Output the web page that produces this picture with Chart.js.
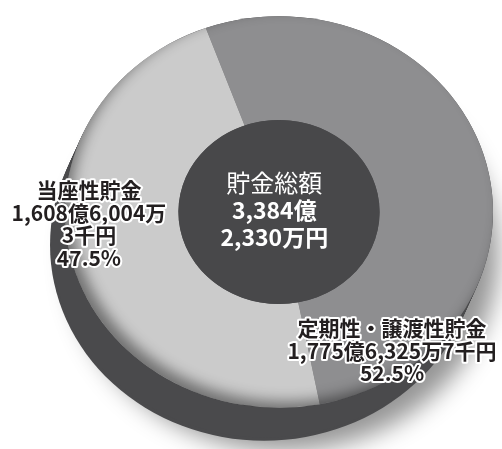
<!DOCTYPE html>
<html>
<head>
<meta charset="utf-8">
<script src="https://cdn.jsdelivr.net/npm/chart.js@4.4.1/dist/chart.umd.min.js"></script>
<style>
  html, body { margin: 0; padding: 0; background: #fff; }
  #wrap { width: 502px; height: 449px; }
</style>
</head>
<body>
<div id="wrap"><canvas id="savingsChart" width="502" height="449"></canvas></div>
<script>
// data
const categories = ['定期性・譲渡性貯金', '当座性貯金'];
const amountLines = [['1,775億6,325万7千円'], ['1,608億6,004万', '3千円']];
const shares = [52.5, 47.5];
const totalTitle = '貯金総額';
const totalLines = ['3,384億', '2,330万円'];

const sliceColors = ['#8e8e90', '#cbcbcb'];
const TILT = 0.915;
const FONT = '"Noto Sans CJK JP", "Noto Sans", sans-serif';

// 3D-ish disc: tilt, dark side, inner rim shadow, center disc
const discPlugin = {
    id: 'disc',
    beforeDatasetsDraw(chart) {
        const ctx = chart.ctx;
        const arc = chart.getDatasetMeta(0).data[0];
        const { x, y, outerRadius: R } = arc;
        ctx.save();
        ctx.translate(x, y - 2);
        ctx.scale(1, TILT);
        ctx.translate(-x, -y);

        const dx = -0.07 * R, dy = 0.168 * R;
        // ground shadow + bottom of the side
        ctx.save();
        ctx.shadowColor = 'rgba(0,0,0,0.42)';
        ctx.shadowBlur = 24;
        ctx.shadowOffsetX = 20;
        ctx.shadowOffsetY = 10;
        ctx.fillStyle = '#4a4a4c';
        ctx.beginPath();
        ctx.arc(x + dx, y + dy, R, 0, Math.PI * 2);
        ctx.fill();
        ctx.restore();
        // extrusion
        ctx.fillStyle = '#4a4a4c';
        for (let i = 0; i < 10; i++) {
            const t = i / 10;
            ctx.beginPath();
            ctx.arc(x + dx * t, y + dy * t, R, 0, Math.PI * 2);
            ctx.fill();
        }
    },
    afterDatasetsDraw(chart) {
        const ctx = chart.ctx;
        const arc = chart.getDatasetMeta(0).data[0];
        const { x, y, outerRadius: R, innerRadius: r } = arc;

        // soft rim shading on the top face
        ctx.save();
        ctx.beginPath();
        ctx.arc(x, y, R, 0, Math.PI * 2);
        ctx.clip();
        ctx.shadowColor = 'rgba(0,0,0,0.45)';
        ctx.shadowBlur = 14;
        ctx.shadowOffsetX = 7;
        ctx.shadowOffsetY = -7;
        ctx.fillStyle = '#000';
        ctx.beginPath();
        ctx.rect(x - 3 * R, y - 3 * R, 6 * R, 6 * R);
        ctx.arc(x, y, R + 1, 0, Math.PI * 2, true);
        ctx.fill('evenodd');
        ctx.restore();

        // center disc
        ctx.fillStyle = '#48484a';
        ctx.beginPath();
        ctx.arc(x, y, r, 0, Math.PI * 2);
        ctx.fill();

        ctx.restore();
    },
    afterDraw(chart) {
        const ctx = chart.ctx;
        const arc = chart.getDatasetMeta(0).data[0];
        const { x, y, outerRadius: R } = arc;

        // center total
        ctx.save();
        ctx.textAlign = 'center';
        ctx.textBaseline = 'middle';
        ctx.fillStyle = '#ffffff';
        const tx = x - 0.022 * R;
        ctx.font = '400 24px ' + FONT;
        ctx.fillText(totalTitle, tx, y - 31);
        ctx.font = '700 23px ' + FONT;
        totalLines.forEach((t, i) => ctx.fillText(t, tx, y - 4 + i * 27));

        // slice labels
        const anchors = [
            { x: x + 0.528 * R, y: y + 114 },
            { x: x - 0.888 * R, y: y - 24 }
        ];
        ctx.font = '700 21px ' + FONT;
        ctx.lineJoin = 'round';
        ctx.lineWidth = 4;
        ctx.strokeStyle = '#ffffff';
        ctx.fillStyle = '#231f20';
        categories.forEach((name, i) => {
            const lines = [name, ...amountLines[i], shares[i].toFixed(1) + '%'];
            lines.forEach((t, j) => {
                const ly = anchors[i].y + j * 22.7;
                ctx.strokeText(t, anchors[i].x, ly);
                ctx.fillText(t, anchors[i].x, ly);
            });
        });
        ctx.restore();
    }
};

new Chart(document.getElementById('savingsChart'), {
    type: 'doughnut',
    data: {
        labels: categories,
        datasets: [{
            data: shares,
            backgroundColor: sliceColors,
            borderWidth: 0,
            hoverOffset: 0
        }]
    },
    options: {
        responsive: false,
        animation: false,
        devicePixelRatio: 1,
        cutout: '47%',
        rotation: -20,
        layout: { padding: { left: 65, right: 9, top: 0, bottom: 21 } },
        plugins: {
            legend: { display: false },
            tooltip: { enabled: false }
        }
    },
    plugins: [discPlugin]
});
</script>
</body>
</html>
